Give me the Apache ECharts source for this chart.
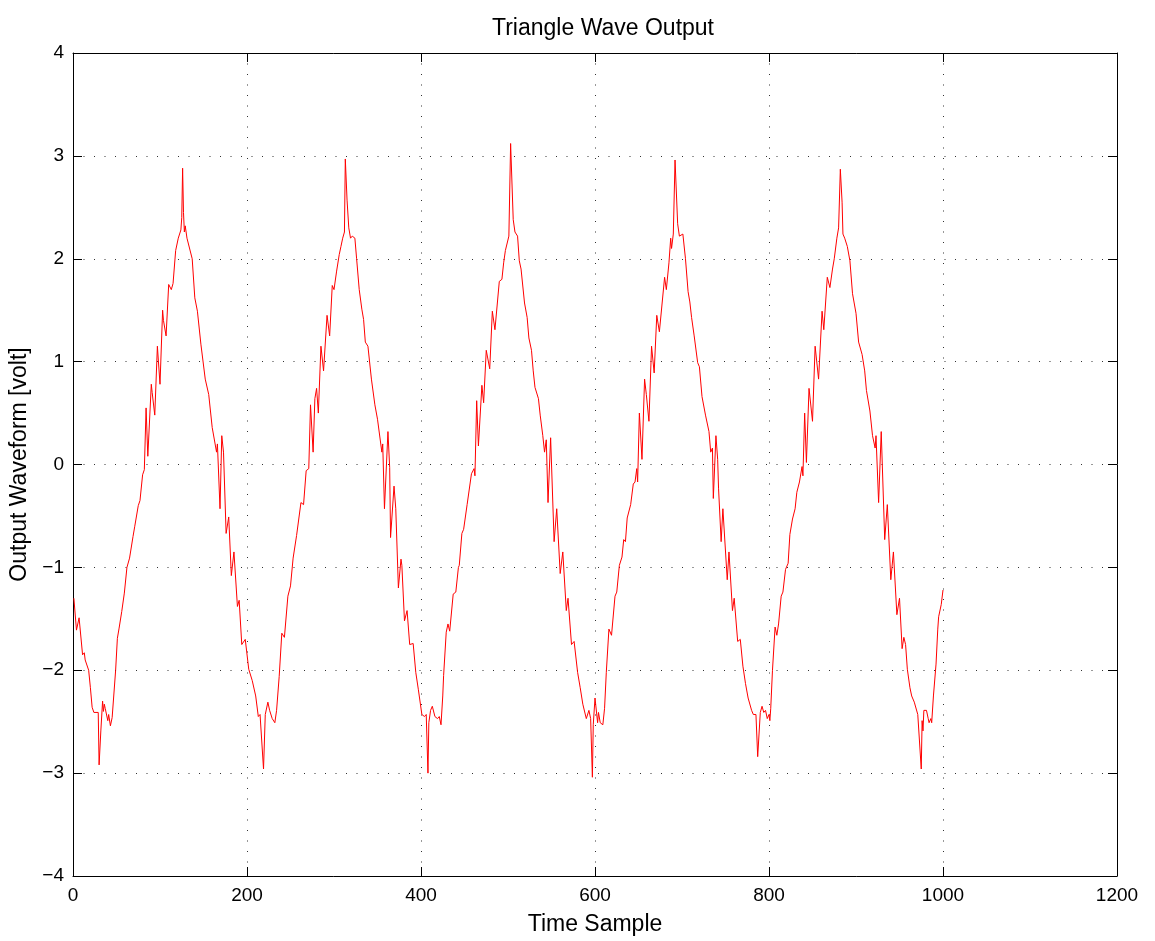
<!DOCTYPE html>
<html>
<head>
<meta charset="utf-8">
<title>Triangle Wave Output</title>
<script src="https://cdn.jsdelivr.net/npm/echarts@6/dist/echarts.min.js"></script>
<style>
  html, body { margin: 0; padding: 0; background: #fff; }
  #chart { width: 1155px; height: 941px; }
</style>
</head>
<body>
<div id="chart"></div>
<script>
// Sample index (time sample) of each recorded point of the output waveform
const sampleIdx = [
  1, 4, 7, 11, 13, 14, 18, 20, 22, 24, 29, 30, 32, 34, 35, 36, 37, 40, 41, 43,
  45, 49, 51, 53, 56, 59, 62, 65, 69, 71, 75, 77, 80, 82, 84, 86, 90, 91, 94, 97,
  100, 103, 104, 107, 110, 113, 115, 118, 121, 124, 125, 126, 127, 128, 129, 131, 133, 137, 140, 143,
  147, 152, 156, 160, 165, 166, 169, 171, 173, 176, 179, 182, 185, 189, 191, 194, 198, 202, 206, 210,
  213, 215, 219, 221, 224, 226, 229, 232, 234, 237, 240, 243, 247, 250, 253, 257, 262, 265, 268, 271,
  273, 276, 278, 280, 282, 285, 288, 292, 295, 298, 300, 303, 306, 308, 310, 312, 313, 315, 317, 319,
  321, 324, 326, 329, 332, 334, 336, 339, 343, 347, 350, 355, 356, 358, 362, 364, 365, 367, 369, 371,
  374, 377, 378, 381, 384, 387, 391, 394, 397, 401, 404, 406, 408, 409, 411, 413, 416, 419, 421, 423,
  425, 426, 429, 431, 433, 437, 440, 443, 444, 447, 449, 453, 458, 460, 461, 462, 464, 466, 470, 472,
  475, 479, 482, 485, 490, 493, 495, 497, 501, 503, 506, 508, 511, 513, 515, 519, 522, 524, 527, 529,
  531, 535, 537, 540, 542, 544, 546, 549, 553, 556, 560, 563, 567, 569, 573, 576, 580, 583, 586, 590,
  593, 595, 597, 598, 600, 603, 604, 606, 609, 611, 613, 616, 619, 623, 625, 628, 631, 633, 635, 637,
  641, 644, 646, 648, 649, 651, 654, 657, 659, 662, 665, 668, 671, 674, 680, 682, 685, 687, 688, 690,
  692, 695, 697, 701, 704, 707, 709, 711, 714, 718, 720, 723, 727, 731, 733, 735, 736, 739, 741, 742,
  745, 747, 752, 754, 758, 760, 764, 767, 770, 773, 776, 780, 782, 785, 787, 790, 792, 794, 796, 798,
  800, 801, 802, 804, 807, 809, 811, 814, 816, 819, 822, 824, 827, 830, 832, 835, 838, 839, 841, 843,
  846, 848, 850, 853, 857, 861, 863, 867, 870, 873, 875, 878, 880, 882, 884, 885, 887, 890, 893, 896,
  900, 903, 907, 910, 912, 916, 919, 922, 923, 926, 929, 933, 936, 940, 943, 947, 950, 953, 955, 957,
  959, 962, 964, 967, 971, 973, 975, 976, 977, 978, 981, 983, 984, 986, 987, 989, 992, 994, 995, 998,
  1000
];

// Output voltage at each of those samples [volt]
const waveform = [
  -1.30, -1.61, -1.49, -1.85, -1.83, -1.90, -2.00, -2.17, -2.36, -2.41, -2.41, -2.92, -2.59, -2.30, -2.40, -2.33, -2.37, -2.49, -2.43, -2.54,
  -2.46, -2.00, -1.69, -1.59, -1.43, -1.25, -1.00, -0.91, -0.70, -0.60, -0.40, -0.35, -0.10, -0.05, 0.55, 0.08, 0.78, 0.70, 0.48, 1.15,
  0.78, 1.50, 1.40, 1.25, 1.75, 1.70, 1.76, 2.08, 2.20, 2.28, 2.40, 2.88, 2.45, 2.26, 2.32, 2.20, 2.20, 2.00, 1.62, 1.49,
  1.17, 0.83, 0.68, 0.36, 0.12, 0.20, -0.43, 0.28, 0.12, -0.67, -0.51, -1.08, -0.85, -1.38, -1.32, -1.75, -1.70, -1.99, -2.10, -2.25,
  -2.45, -2.43, -2.96, -2.43, -2.31, -2.39, -2.47, -2.51, -2.39, -2.06, -1.64, -1.68, -1.28, -1.18, -0.91, -0.69, -0.37, -0.39, -0.06, -0.04,
  0.58, 0.12, 0.64, 0.74, 0.50, 1.15, 0.91, 1.45, 1.25, 1.74, 1.70, 1.88, 2.04, 2.12, 2.20, 2.26, 2.97, 2.57, 2.30, 2.20,
  2.22, 2.20, 2.00, 1.70, 1.51, 1.41, 1.19, 1.15, 0.83, 0.58, 0.44, 0.12, 0.20, -0.43, 0.32, -0.03, -0.71, -0.71, -0.21, -0.43,
  -1.20, -0.92, -0.98, -1.52, -1.42, -1.75, -1.74, -2.02, -2.19, -2.43, -2.45, -2.43, -3.00, -2.51, -2.39, -2.35, -2.45, -2.47, -2.45, -2.53,
  -2.25, -2.05, -1.63, -1.55, -1.62, -1.26, -1.24, -1.00, -0.98, -0.67, -0.63, -0.39, -0.09, -0.09, -0.04, -0.11, 0.62, 0.18, 0.77, 0.60,
  1.11, 0.93, 1.49, 1.31, 1.78, 1.80, 1.96, 2.08, 2.22, 3.12, 2.38, 2.26, 2.22, 1.98, 1.90, 1.57, 1.43, 1.23, 1.11, 0.91,
  0.75, 0.64, 0.48, 0.28, 0.12, 0.24, -0.37, 0.26, -0.75, -0.43, -1.06, -0.85, -1.42, -1.30, -1.75, -1.72, -2.02, -2.17, -2.33, -2.47,
  -2.39, -2.47, -3.04, -2.53, -2.27, -2.51, -2.41, -2.51, -2.53, -2.37, -2.02, -1.60, -1.66, -1.28, -1.24, -0.98, -0.90, -0.73, -0.75, -0.52,
  -0.39, -0.19, -0.17, -0.04, -0.17, 0.50, 0.05, 0.83, 0.68, 0.42, 1.15, 0.89, 1.45, 1.29, 1.82, 1.70, 1.96, 2.20, 2.10, 2.24,
  2.96, 2.34, 2.22, 2.24, 2.00, 1.68, 1.58, 1.43, 1.25, 0.99, 0.95, 0.66, 0.48, 0.32, 0.12, 0.16, -0.33, 0.28, 0.05, -0.23,
  -0.75, -0.43, -1.12, -0.85, -1.42, -1.30, -1.72, -1.70, -1.96, -2.13, -2.27, -2.39, -2.43, -2.43, -2.84, -2.41, -2.35, -2.41, -2.39, -2.47,
  -2.43, -2.49, -2.37, -2.00, -1.58, -1.66, -1.55, -1.28, -1.24, -1.02, -0.96, -0.68, -0.53, -0.43, -0.27, -0.17, -0.02, -0.11, 0.50, 0.02,
  0.74, 0.74, 0.42, 1.15, 0.83, 1.49, 1.31, 1.82, 1.72, 1.90, 2.00, 2.20, 2.30, 2.87, 2.55, 2.24, 2.20, 2.12, 1.98, 1.66,
  1.47, 1.19, 1.07, 0.91, 0.72, 0.52, 0.28, 0.16, 0.28, -0.37, 0.32, -0.73, -0.39, -1.12, -0.85, -1.46, -1.30, -1.79, -1.68, -1.75,
  -1.99, -2.17, -2.25, -2.31, -2.43, -2.43, -2.96, -2.49, -2.59, -2.39, -2.39, -2.47, -2.51, -2.47, -2.51, -2.25, -1.94, -1.60, -1.48, -1.36,
  -1.22
];

// Axis ranges and tick values
const xTicks = [0, 200, 400, 600, 800, 1000, 1200];
const yTicks = [-4, -3, -2, -1, 0, 1, 2, 3, 4];

const FONT = '"Liberation Sans", Arial, Helvetica, sans-serif';
const fmt = v => String(v).replace('-', '\u2212');

const points = sampleIdx.map((s, i) => [s, waveform[i]]);

const dotted = { color: '#333', width: 1, type: [1, 9.5] };
const xBase = {
  type: 'value',
  min: xTicks[0],
  max: xTicks[xTicks.length - 1],
  interval: xTicks[1] - xTicks[0],
  axisLine: { show: true, onZero: false, lineStyle: { color: '#000', width: 1 } },
  axisTick: { show: true, inside: true, length: 9, lineStyle: { color: '#000', width: 1 } }
};
const yBase = {
  type: 'value',
  min: yTicks[0],
  max: yTicks[yTicks.length - 1],
  interval: yTicks[1] - yTicks[0],
  axisLine: { show: true, onZero: false, lineStyle: { color: '#000', width: 1 } },
  axisTick: { show: true, inside: true, length: 9, lineStyle: { color: '#000', width: 1 } }
};

const chart = echarts.init(document.getElementById('chart'), null, { renderer: 'canvas' });
chart.setOption({
  animation: false,
  backgroundColor: '#fff',
  textStyle: { fontFamily: FONT },
  title: {
    text: 'Triangle Wave Output',
    left: 598,
    textAlign: 'center',
    top: 12,
    textStyle: { fontFamily: FONT, fontSize: 23, fontWeight: 'normal', color: '#000' }
  },
  grid: { left: 73, top: 53, right: 38, bottom: 62, containLabel: false },
  xAxis: [
    Object.assign({}, xBase, {
      position: 'bottom',
      name: 'Time Sample',
      nameLocation: 'middle',
      nameGap: 37,
      nameTextStyle: { fontFamily: FONT, fontSize: 23, color: '#000' },
      axisLabel: { show: true, margin: 10, fontFamily: FONT, fontSize: 19, color: '#000', formatter: fmt },
      splitLine: { show: true, lineStyle: dotted }
    }),
    Object.assign({}, xBase, {
      position: 'top',
      axisLabel: { show: false },
      splitLine: { show: false }
    })
  ],
  yAxis: [
    Object.assign({}, yBase, {
      position: 'left',
      name: 'Output Waveform [volt]',
      nameLocation: 'middle',
      nameGap: 34,
      nameTextStyle: { fontFamily: FONT, fontSize: 23, color: '#000' },
      axisLabel: { show: true, margin: 9, fontFamily: FONT, fontSize: 19, color: '#000', formatter: fmt },
      splitLine: { show: true, lineStyle: dotted }
    }),
    Object.assign({}, yBase, {
      position: 'right',
      axisLabel: { show: false },
      splitLine: { show: false }
    })
  ],
  series: [{
    type: 'line',
    xAxisIndex: 0,
    yAxisIndex: 0,
    data: points,
    showSymbol: false,
    symbol: 'none',
    lineStyle: { color: '#ff0000', width: 1 },
    itemStyle: { color: '#ff0000' }
  }]
});
</script>
</body>
</html>
